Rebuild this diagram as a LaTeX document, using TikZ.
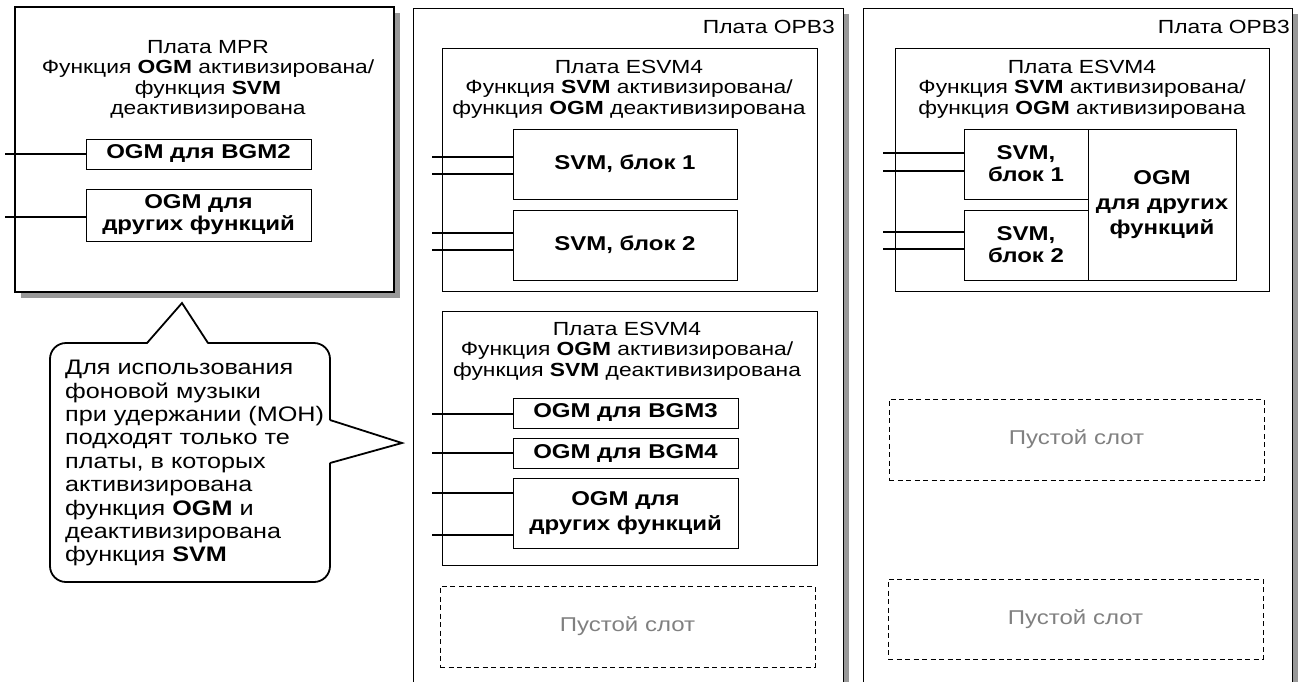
\documentclass[tikz,border=0pt]{standalone}
\usepackage{fontspec}
\setmainfont{Liberation Sans}[FakeStretch=1.2]
\usetikzlibrary{shadows}

\begin{document}
\begin{tikzpicture}[x=1pt,y=-1pt,
  frame/.style={draw,line width=1pt,fill=white,inner sep=0pt,
    drop shadow={shadow xshift=6pt,shadow yshift=-6pt,fill=black!40,opacity=1}},
  card/.style={draw,line width=0.8pt,inner sep=0pt},
  unit/.style={draw,line width=0.8pt,inner sep=0pt,align=center,
    font=\fontsize{20}{22}\selectfont\bfseries},
  tall/.style={font=\fontsize{20}{25}\selectfont\bfseries},
  slot/.style={draw,dash pattern=on 5pt off 3.5pt,line width=0.8pt,inner sep=0pt,
    text=black!50,font=\fontsize{20}{22}\selectfont},
  title/.style={anchor=north,align=center,inner sep=0pt,
    font=\fontsize{19}{20.5}\selectfont},
  wire/.style={line width=1.8pt},
  wh/.style 2 args={minimum width=#1,minimum height=#2}]
\useasboundingbox (0,0) rectangle (1298,681);
\clip (0,0) rectangle (1298,681);

\node[frame,line width=1.3pt,wh={379}{285}] (mpr) at (204.5,149.5) {};
\node[frame,wh={430}{712}] (opbA) at (628,364) {};
\node[frame,wh={429}{712}] (opbB) at (1077.5,364) {};
\node[title,anchor=north east] (opbAname) at (835,20) {Плата OPB3};
\node[title,anchor=north east] (opbBname) at (1290,20) {Плата OPB3};

\node[title] (mprname) at (208,40) {Плата MPR\\Функция \textbf{OGM} активизирована/\\функция \textbf{SVM}\\деактивизирована};
\node[unit,wh={225}{30}] (bgm2) at (198.5,154) {OGM для BGM2};
\node[unit,wh={225}{52}] (mprother) at (198.5,215) {OGM для\\других функций};

\node[card,wh={375}{243}] (esvmA) at (629.5,169.5) {};
\node[title] (esvmAname) at (629,60) {Плата ESVM4\\Функция \textbf{SVM} активизирована/\\функция \textbf{OGM} деактивизирована};
\node[unit,wh={224}{70}] (svmA1) at (625,164) {SVM, блок 1};
\node[unit,wh={224}{70}] (svmA2) at (625,245) {SVM, блок 2};

\node[card,wh={375}{254}] (esvmB) at (629.5,438) {};
\node[title] (esvmBname) at (627,322) {Плата ESVM4\\Функция \textbf{OGM} активизирована/\\функция \textbf{SVM} деактивизирована};
\node[unit,wh={225}{30}] (bgm3) at (625.5,413) {OGM для BGM3};
\node[unit,wh={225}{30}] (bgm4) at (625.5,453) {OGM для BGM4};
\node[unit,tall,wh={225}{70}] (otherB) at (625.5,513) {OGM для\\других функций};
\node[slot,wh={375}{81}] (slotA) at (627.5,626.5) {Пустой слот};

\node[card,wh={374}{243}] (esvmC) at (1082,169.5) {};
\node[title] (esvmCname) at (1082,60) {Плата ESVM4\\Функция \textbf{SVM} активизирована/\\функция \textbf{OGM} активизирована};
\node[unit,wh={124}{70}] (svmC1) at (1026,164) {SVM,\\блок 1};
\node[unit,wh={124}{70}] (svmC2) at (1026,245) {SVM,\\блок 2};
\node[unit,tall,wh={148}{151}] (otherC) at (1162,204.5) {OGM\\для других\\функций};
\node[slot,wh={375}{81}] (slotB) at (1076.5,439.5) {Пустой слот};
\node[slot,wh={375}{80}] (slotC) at (1075.5,619) {Пустой слот};

\foreach \x/\y/\t in {5/154/bgm2,5/217/mprother,432/157/svmA1,432/174/svmA1,432/233/svmA2,432/250/svmA2,
  432/414/bgm3,432/453/bgm4,432/493/otherB,432/535/otherB,883/153/svmC1,883/171/svmC1,883/232/svmC2,883/249/svmC2}
  {\coordinate (w) at (\x,\y); \draw[wire] (w) -- (w -| \t.west);}

\node[draw,line width=1.8pt,rounded corners=16pt,fill=white,wh={280}{239}] (note) at (190,462.5) {};
\node[anchor=north west,align=left,inner sep=0pt,font=\fontsize{21}{23.4}\selectfont] (notetext) at (65,360)
  {Для использования\\фоновой музыки\\при удержании (МОН)\\подходят только те\\платы, в которых\\активизирована\\функция \textbf{OGM} и\\деактивизирована\\функция \textbf{SVM}};
\coordinate (ua) at (147,343); \coordinate (ub) at (208,343); \coordinate (utip) at (182,303);
\coordinate (ra) at (330,420); \coordinate (rb) at (330,463); \coordinate (rtip) at (402,443);
\fill[white] ([yshift=-1.5pt]ua) -- (utip) -- ([yshift=-1.5pt]ub) -- cycle;
\fill[white] ([xshift=-1.5pt]ra) -- (rtip) -- ([xshift=-1.5pt]rb) -- cycle;
\draw[line width=1.8pt] (ua) -- (utip) -- (ub) (ra) -- (rtip) -- (rb);
\end{tikzpicture}
\end{document}
